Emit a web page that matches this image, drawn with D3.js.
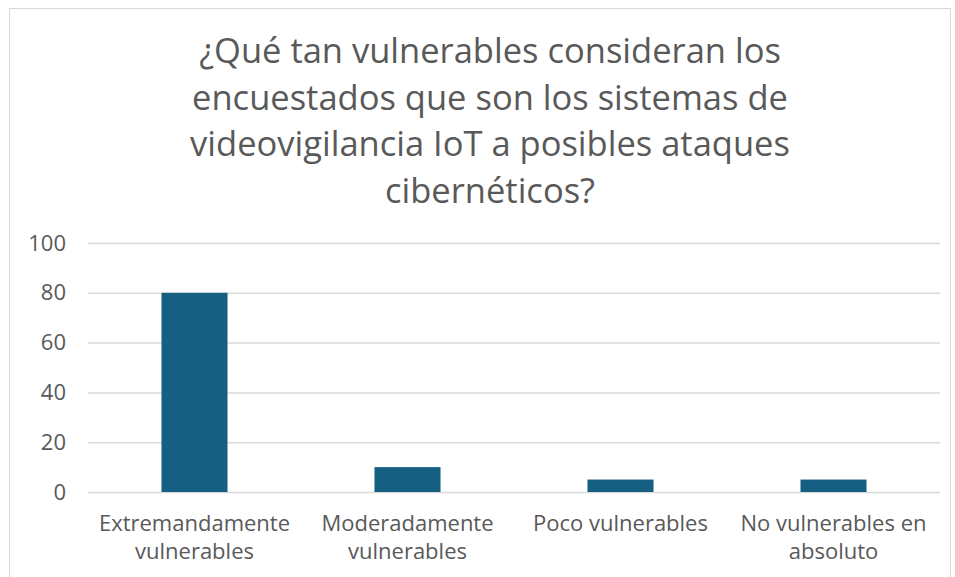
<!DOCTYPE html>
<html>
<head>
<meta charset="utf-8">
<script src="https://cdn.jsdelivr.net/npm/d3@7"></script>
<style>
  body { margin: 0; background: #fff; }
  text { font-family: "Open Sans", Roboto, sans-serif; fill: #595959; }
</style>
</head>
<body>
<div id="chart"></div>
<script>
const titleLines = [
  "¿Qué tan vulnerables consideran los",
  "encuestados que son los sistemas de",
  "videovigilancia IoT a posibles ataques",
  "cibernéticos?"
]
const categories = [
  ["Extremandamente", "vulnerables"],
  ["Moderadamente", "vulnerables"],
  ["Poco vulnerables"],
  ["No vulnerables en", "absoluto"]
]
const values = [80, 10, 5, 5]
const yTicks = [0, 20, 40, 60, 80, 100]

const width = 955, height = 577
const margin = {top: 243, right: 15, bottom: 85, left: 88}

const svg = d3.select("#chart").append("svg")
  .attr("width", width)
  .attr("height", height)

// chart frame
svg.append("rect")
  .attr("x", 9.5).attr("y", 8.5)
  .attr("width", 941).attr("height", 580)
  .attr("fill", "#fff")
  .attr("stroke", "#d9d9d9")

svg.append("g").selectAll("text")
  .data(titleLines)
  .enter().append("text")
    .attr("x", 490)
    .attr("y", (d, i) => 63 + i * 46.5)
    .attr("text-anchor", "middle")
    .style("font-size", "34.5px")
    .text(d => d)

var x = d3.scaleBand()
  .domain(d3.range(categories.length))
  .range([margin.left, width - margin.right])
  .paddingInner(0.69)
  .paddingOuter(0.345)

var y = d3.scaleLinear()
  .domain([0, 100])
  .range([height - margin.bottom, margin.top])

// gridlines
const grid = svg.append("g")
  .attr("transform", `translate(${margin.left},0)`)
  .call(d3.axisLeft(y).tickValues(yTicks).tickSize(-(width - margin.right - margin.left)).tickFormat(""))
grid.select(".domain").remove()
grid.selectAll("line").attr("stroke", "#d9d9d9").attr("stroke-width", 1.5)

// y labels
const yAxis = svg.append("g")
  .attr("transform", "translate(66,0)")
  .call(d3.axisLeft(y).tickValues(yTicks).tickSize(0).tickPadding(0))
yAxis.select(".domain").remove()
yAxis.selectAll("text")
  .style("font-size", "22px")
  .attr("fill", "#595959")
  .attr("font-family", "'Open Sans', Roboto, sans-serif")

svg.append("g").selectAll("rect")
  .data(values)
  .enter().append("rect")
    .attr("x", (d, i) => x(i))
    .attr("y", d => y(d))
    .attr("width", x.bandwidth())
    .attr("height", d => y(0) - y(d))
    .attr("fill", "#156082")

// category labels
const catG = svg.append("g").selectAll("text")
  .data(categories)
  .enter().append("text")
    .attr("x", (d, i) => x(i) + x.bandwidth() / 2)
    .attr("y", 531)
    .attr("text-anchor", "middle")
    .style("font-size", "22px")
catG.selectAll("tspan")
  .data(d => d)
  .enter().append("tspan")
    .attr("x", function() { return this.parentNode.getAttribute("x") })
    .attr("dy", (d, i) => i === 0 ? 0 : 28)
    .text(d => d)
</script>
</body>
</html>
